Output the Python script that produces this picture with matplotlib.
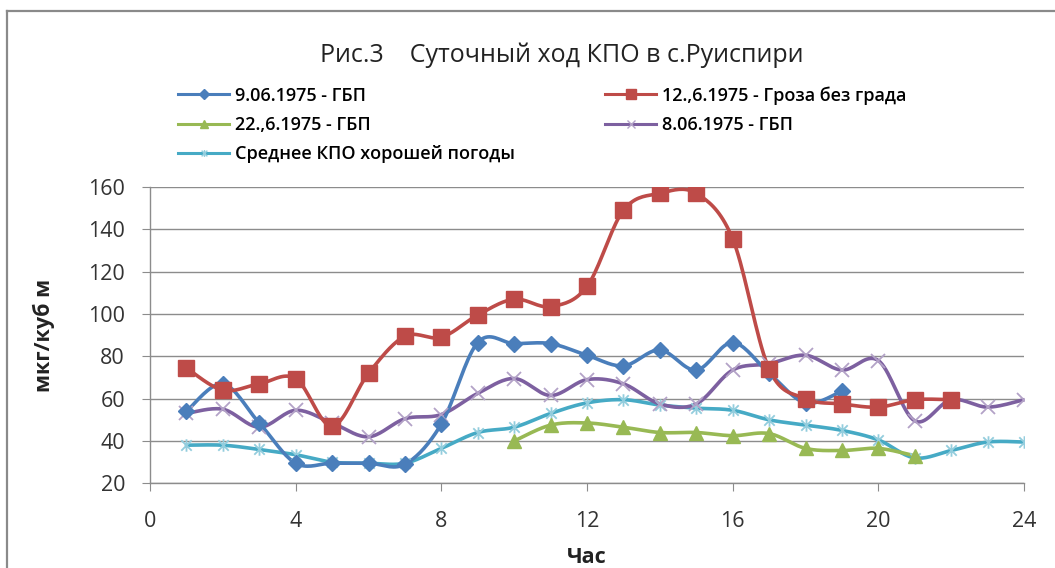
import numpy as np
import matplotlib
matplotlib.use("Agg")
import matplotlib.pyplot as plt
from matplotlib.lines import Line2D
from matplotlib.path import Path

plt.rcParams['font.family'] = ['Open Sans', 'DejaVu Sans']

title = "Рис.3    Суточный ход КПО в с.Руиспири"
xlabel = "Час"
ylabel = "мкг/куб м"

hours_blue = [1, 2, 3, 4, 5, 6, 7, 8, 9, 10, 11, 12, 13, 14, 15, 16, 17, 18, 19]
blue = [54, 67, 48.5, 29.5, 29.5, 29.5, 29, 48, 86.5, 86, 86, 80.5, 75.5, 83, 73.5, 86.5, 72, 58, 63.5]

hours_red = [1, 2, 3, 4, 5, 6, 7, 8, 9, 10, 11, 12, 13, 14, 15, 16, 17, 18, 19, 20, 21, 22]
red = [74.5, 64, 67, 69.5, 47, 72, 89.5, 89, 99.5, 107, 103.5, 113, 149, 157, 157, 135.5, 74, 60, 57.5, 56, 59.5, 59.5]

hours_green = [10, 11, 12, 13, 14, 15, 16, 17, 18, 19, 20, 21]
green = [40, 47.5, 48.5, 46.5, 44, 44, 42.5, 43.5, 36.5, 35.5, 36.5, 33]

hours_purple = list(range(1, 25))
purple = [53, 55, 46.5, 54.5, 48.5, 42, 50.5, 52.5, 62.5, 69.5, 61.5, 69, 67, 57.5, 57.5, 73.5, 76.5, 80.5, 73.5, 78, 49.5, 59.5, 56, 59.5]

hours_cyan = list(range(1, 25))
cyan = [38, 38, 36, 33.5, 30, 29.5, 29.5, 36.5, 44, 46.5, 53, 58, 59.5, 57, 55.5, 54.5, 50, 47.5, 45, 40.5, 32, 35.5, 39.5, 39.5]

labels = ["9.06.1975 - ГБП", "12.,6.1975 - Гроза без града", "22.,6.1975 - ГБП",
          "8.06.1975 - ГБП", "Среднее КПО хорошей погоды"]

xticks = [0, 4, 8, 12, 16, 20, 24]
yticks = [20, 40, 60, 80, 100, 120, 140, 160]


def smooth(x, y, n=20):
    """Excel-like smoothed line (Catmull-Rom Bezier)."""
    x = np.asarray(x, float)
    y = np.asarray(y, float)
    P = np.column_stack([x, y])
    out = [P[0]]
    for i in range(len(P) - 1):
        p0 = P[i - 1] if i > 0 else P[i]
        p1 = P[i]
        p2 = P[i + 1]
        p3 = P[i + 2] if i + 2 < len(P) else P[i + 1]
        c1 = p1 + (p2 - p0) / 6.0
        c2 = p2 - (p3 - p1) / 6.0
        t = np.linspace(0, 1, n)[1:, None]
        seg = ((1 - t) ** 3) * p1 + 3 * ((1 - t) ** 2) * t * c1 + 3 * (1 - t) * t ** 2 * c2 + t ** 3 * p2
        out.extend(seg)
    out = np.array(out)
    return out[:, 0], out[:, 1]


# asterisk marker
ast = Path([(-1, -1), (1, 1), (-1, 1), (1, -1), (0, -1.2), (0, 1.2)],
           [Path.MOVETO, Path.LINETO, Path.MOVETO, Path.LINETO, Path.MOVETO, Path.LINETO])

fig = plt.figure(figsize=(10.55, 5.68), dpi=100)
ax = fig.add_axes([150 / 1055, 1 - 483.3 / 568, (1024 - 150) / 1055, (483.3 - 187) / 568])

c_blue = '#4A7EBB'
c_red = '#BE4B48'
c_green = '#98B954'
c_purple = '#7D60A0'
c_cyan = '#46AAC5'

lw = 2.6
series = [
    (hours_cyan, cyan, c_cyan, dict(marker=ast, ms=9, mec='#93CDDD', mfc='none', mew=1.3)),
    (hours_purple, purple, c_purple, dict(marker='x', ms=10, mec='#B3A2C7', mew=1.3)),
    (hours_green, green, c_green, dict(marker='^', ms=10, mec=c_green, mfc=c_green)),
    (hours_blue, blue, c_blue, dict(marker='D', ms=8, mec=c_blue, mfc=c_blue)),
    (hours_red, red, c_red, dict(marker='s', ms=12, mec=c_red, mfc=c_red)),
]
for hx, hy, col, mk in series:
    sx, sy = smooth(hx, hy)
    ax.plot(sx, sy, color=col, lw=lw, solid_capstyle='round', zorder=3)
    ax.plot(hx, hy, ls='none', zorder=4, **mk)

ax.set_xlim(0, 24)
ax.set_ylim(20, 160)
ax.set_xticks(xticks)
ax.set_yticks(yticks)
ax.grid(axis='y', color='#8C8C8C', lw=1.0)
ax.set_axisbelow(True)
for s in ['top', 'right']:
    ax.spines[s].set_visible(False)
for s in ['left', 'bottom']:
    ax.spines[s].set_color('#8C8C8C')
    ax.spines[s].set_linewidth(1.0)
ax.tick_params(axis='both', colors='#8C8C8C', labelcolor='#333333', labelsize=15.5, length=6, direction='out')
ax.tick_params(axis='x', pad=14)
ax.tick_params(axis='y', pad=12)

ax.set_xlabel(xlabel, fontsize=15.5, fontweight='bold', labelpad=11, color='#222222')
ax.set_ylabel(ylabel, fontsize=15.5, fontweight='bold', labelpad=24, color='#222222')

fig.text(0.532, 1 - 55 / 568, title, ha='center', va='center', fontsize=18, color='#222222')

# legend
handles = []
legs = [
    (c_blue, dict(marker='D', ms=5, mec=c_blue, mfc=c_blue)),
    (c_red, dict(marker='s', ms=7, mec=c_red, mfc=c_red)),
    (c_green, dict(marker='^', ms=6, mec=c_green, mfc=c_green)),
    (c_purple, dict(marker='x', ms=6, mec='#B3A2C7', mew=1.0)),
    (c_cyan, dict(marker=ast, ms=5, mec='#93CDDD', mfc='none', mew=1.0)),
]
for col, mk in legs:
    handles.append(Line2D([0], [0], color=col, lw=2.2, **mk))
order = [0, 2, 4, 1, 3]
fig.legend([handles[i] for i in order], [labels[i] for i in order], ncol=2,
           loc='upper left', bbox_to_anchor=(162 / 1055, 1 - 70 / 568), frameon=False,
           handlelength=2.8, handletextpad=0.35, columnspacing=5.0,
           labelspacing=0.62, prop={'family': ['Open Sans', 'DejaVu Sans'], 'size': 13, 'weight': 'semibold'})

# chart border (top and left edges visible)
fig.add_artist(Line2D([7 / 1055, 7 / 1055], [0, 1 - 10.5 / 568], transform=fig.transFigure,
                      color='#8A8A8A', lw=1.6))
fig.add_artist(Line2D([7 / 1055, 1], [1 - 10.5 / 568, 1 - 10.5 / 568], transform=fig.transFigure,
                      color='#8A8A8A', lw=1.6))

fig.savefig('out.png', dpi=100)
